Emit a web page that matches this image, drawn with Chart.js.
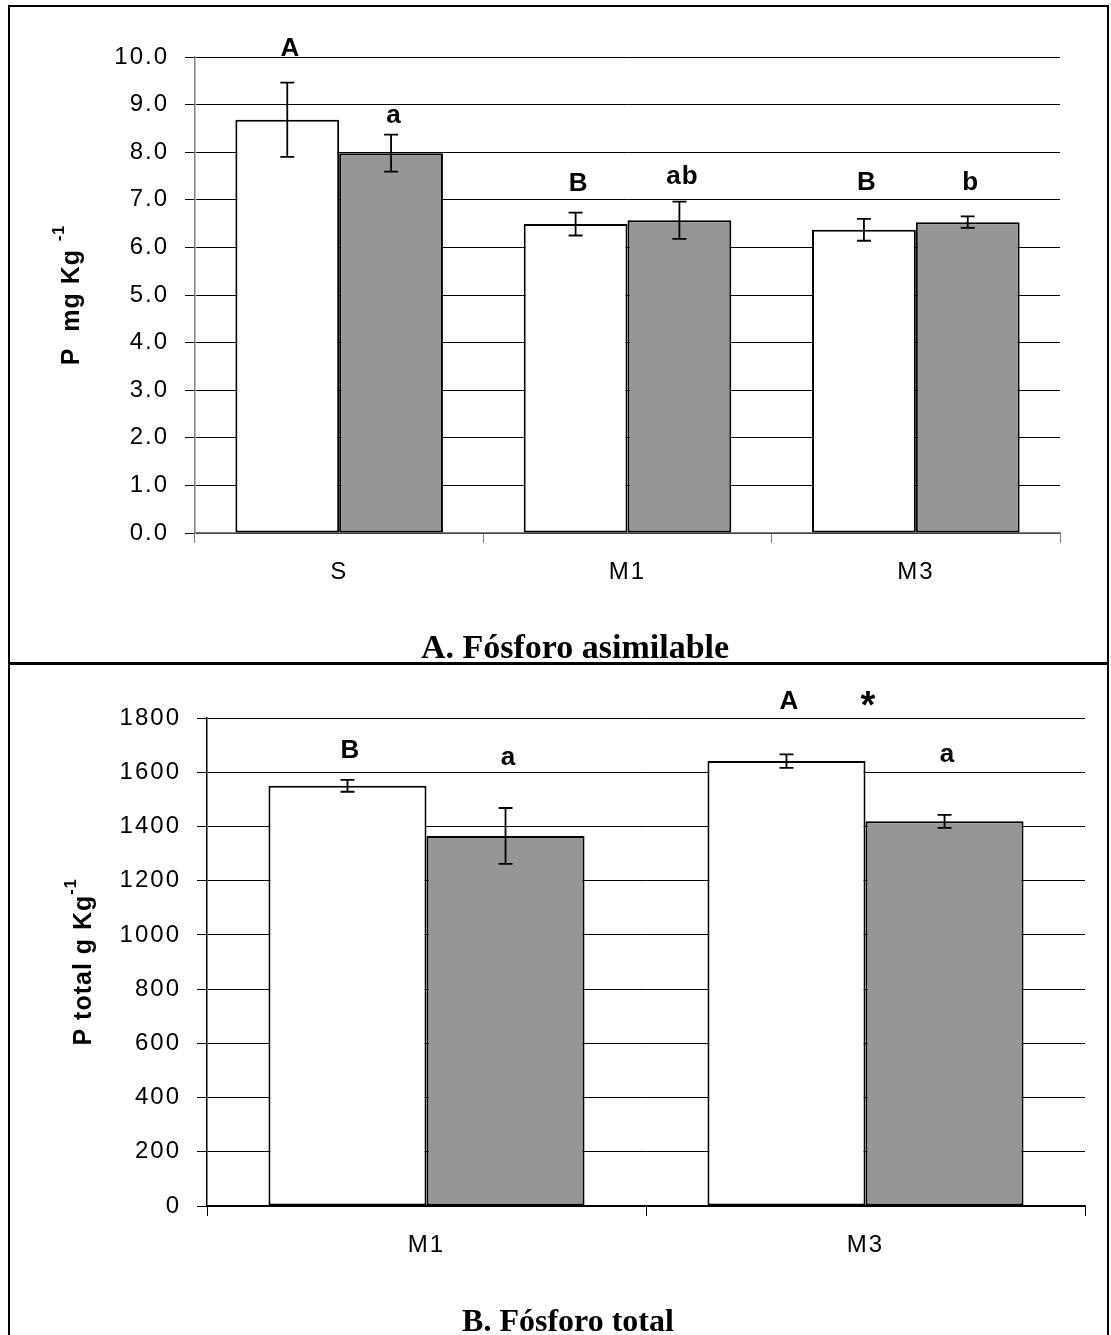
<!DOCTYPE html>
<html>
<head>
<meta charset="utf-8">
<script src="https://cdn.jsdelivr.net/npm/chart.js@4.4.1/dist/chart.umd.min.js"></script>
<style>
  html, body { margin: 0; padding: 0; background: #fff; overflow: hidden; }
  #page { position: relative; width: 1111px; height: 1335px; }
  #frame { position: absolute; left: 8px; top: 5px; width: 1101px; height: 1340px; border: 2px solid #000; box-sizing: border-box; }
  #divider { position: absolute; left: 8px; top: 662px; width: 1101px; height: 3px; background: #000; }
  .box { position: absolute; left: 10px; width: 1097px; }
  #boxA { top: 7px; height: 658px; }
  #boxB { top: 665px; height: 670px; }
</style>
</head>
<body>
<div id="page">
  <div id="frame"></div>
  <div class="box" id="boxA"><canvas id="chartA"></canvas></div>
  <div class="box" id="boxB"><canvas id="chartB"></canvas></div>
  <div id="divider"></div>
</div>
<script>
// ---- panel A: Fósforo asimilable ----
const catsA = ['S', 'M1', 'M3'];
const whiteA = [8.68, 6.49, 6.37];
const grayA = [7.98, 6.57, 6.53];
const whiteErrA = [0.78, 0.24, 0.23];
const grayErrA = [0.39, 0.39, 0.12];
const whiteLetA = ['A', 'B', 'B'];
const grayLetA = ['a', 'ab', 'b'];
const whiteLetYA = [10.03, 7.19, 7.2];   // letter baseline, in axis units
const grayLetYA = [8.61, 7.33, 7.2];

// ---- panel B: Fósforo total ----
const catsB = ['M1', 'M3'];
const whiteB = [1550, 1641];
const grayB = [1365, 1419];
const whiteErrB = [22, 25];
const grayErrB = [103, 24];
const whiteLetB = ['B', 'A'];
const grayLetB = ['a', 'a'];
const whiteLetYB = [1651, 1832];
const grayLetYB = [1627, 1639];
const starB = { text: '*', cat: 1, y: 1838 };

const sans = "'Liberation Sans', Arial, sans-serif";
const serif = "'Liberation Serif', 'Times New Roman', serif";
const GRAY = '#969696';

// error bars, letters, axis title and panel title
const extras = {
  id: 'extras',
  beforeDraw(chart) {
    chart.ctx.letterSpacing = '2px';
  },
  afterDatasetsDraw(chart) {
    const o = chart.options.plugins.extras;
    const ctx = chart.ctx;
    const y = chart.scales.y;
    ctx.save();
    ctx.strokeStyle = '#000';
    ctx.lineWidth = 1.8;
    chart.data.datasets.forEach((ds, i) => {
      chart.getDatasetMeta(i).data.forEach((bar, j) => {
        const v = ds.data[j], e = o.errors[i][j];
        const top = y.getPixelForValue(v + e), bot = y.getPixelForValue(v - e);
        ctx.beginPath();
        ctx.moveTo(bar.x, top); ctx.lineTo(bar.x, bot);
        ctx.moveTo(bar.x - 7, top); ctx.lineTo(bar.x + 7, top);
        ctx.moveTo(bar.x - 7, bot); ctx.lineTo(bar.x + 7, bot);
        ctx.stroke();
      });
    });
    ctx.restore();
  },
  afterDraw(chart) {
    const o = chart.options.plugins.extras;
    const ctx = chart.ctx;
    const y = chart.scales.y;
    const area = chart.chartArea;
    ctx.save();
    ctx.fillStyle = '#000';
    ctx.letterSpacing = '1px';
    ctx.font = 'bold 26px ' + sans;
    ctx.textAlign = 'center';
    ctx.textBaseline = 'alphabetic';
    chart.data.datasets.forEach((ds, i) => {
      chart.getDatasetMeta(i).data.forEach((bar, j) => {
        ctx.fillText(o.letters[i][j], bar.x + 3, y.getPixelForValue(o.letterY[i][j]));
      });
    });
    if (o.star) {
      ctx.font = 'bold 38px ' + sans;
      ctx.fillText(o.star.text, chart.scales.x.getPixelForValue(o.star.cat) + 3, y.getPixelForValue(o.star.y) + 10);
    }

    // rotated y axis title with superscript
    ctx.font = 'bold 25px ' + sans;
    const mainW = ctx.measureText(o.yTitle).width;
    ctx.font = 'bold 16px ' + sans;
    const supW = ctx.measureText(o.ySup).width;
    const total = mainW + supW;
    ctx.translate(o.yTitleX, (area.top + area.bottom) / 2);
    ctx.rotate(-Math.PI / 2);
    ctx.textAlign = 'left';
    ctx.textBaseline = 'middle';
    ctx.font = 'bold 25px ' + sans;
    ctx.fillText(o.yTitle, -total / 2, 0);
    ctx.font = 'bold 16px ' + sans;
    ctx.fillText(o.ySup, -total / 2 + mainW, -12);
    ctx.restore();

    // panel title
    ctx.save();
    ctx.letterSpacing = '0px';
    ctx.fillStyle = '#000';
    ctx.font = 'bold ' + o.titleSize + 'px ' + serif;
    ctx.textAlign = 'center';
    ctx.textBaseline = 'alphabetic';
    ctx.fillText(o.title, o.titleX, o.titleY);
    ctx.restore();
  }
};

function makeChart(id, cats, white, gray, cfg) {
  return new Chart(document.getElementById(id), {
    type: 'bar',
    data: {
      labels: cats,
      datasets: [
        { data: white, backgroundColor: '#fff', borderColor: '#000', borderWidth: 2, borderSkipped: false },
        { data: gray, backgroundColor: GRAY, borderColor: '#000', borderWidth: 2, borderSkipped: false }
      ]
    },
    options: {
      responsive: true,
      maintainAspectRatio: false,
      animation: false,
      layout: { padding: cfg.padding },
      datasets: { bar: { categoryPercentage: 0.72, barPercentage: 1 } },
      plugins: {
        legend: { display: false },
        tooltip: { enabled: false },
        extras: cfg.extras
      },
      scales: {
        x: {
          afterFit: (s) => { s.height = cfg.xHeight; },
          grid: { offset: true, drawOnChartArea: false, tickLength: 10, color: cfg.axisColor, lineWidth: 1 },
          border: { color: cfg.axisColor, width: 1.5 },
          ticks: { color: '#000', font: { family: sans, size: 24 }, padding: 15 }
        },
        y: {
          min: cfg.min, max: cfg.max,
          afterFit: (s) => { s.width = cfg.yWidth; },
          grid: { color: '#000', lineWidth: 1, tickLength: 10 },
          border: { color: cfg.axisColor, width: 1.5 },
          ticks: {
            stepSize: cfg.step, color: '#000', padding: 16,
            font: { family: sans, size: 24 },
            callback: cfg.fmt
          }
        }
      }
    },
    plugins: [extras]
  });
}

makeChart('chartA', catsA, whiteA, grayA, {
  padding: { top: 50, right: 47, bottom: 32, left: 0 },
  xHeight: 100, yWidth: 185, min: 0, max: 10, step: 1,
  axisColor: '#808080',
  fmt: (v) => v.toFixed(1),
  extras: {
    errors: [whiteErrA, grayErrA],
    letters: [whiteLetA, grayLetA],
    letterY: [whiteLetYA, grayLetYA],
    yTitle: 'P  mg Kg ', ySup: '-1', yTitleX: 62,
    title: 'A. Fósforo asimilable', titleSize: 34, titleX: 565, titleY: 651
  }
});

makeChart('chartB', catsB, whiteB, grayB, {
  padding: { top: 53, right: 22, bottom: 32, left: 0 },
  xHeight: 97, yWidth: 197, min: 0, max: 1800, step: 200,
  axisColor: '#000',
  fmt: (v) => String(v),
  extras: {
    errors: [whiteErrB, grayErrB],
    letters: [whiteLetB, grayLetB],
    letterY: [whiteLetYB, grayLetYB],
    star: starB,
    yTitle: 'P total g Kg', ySup: '-1', yTitleX: 74,
    title: 'B. Fósforo total', titleSize: 32, titleX: 558, titleY: 666
  }
});
</script>
</body>
</html>
